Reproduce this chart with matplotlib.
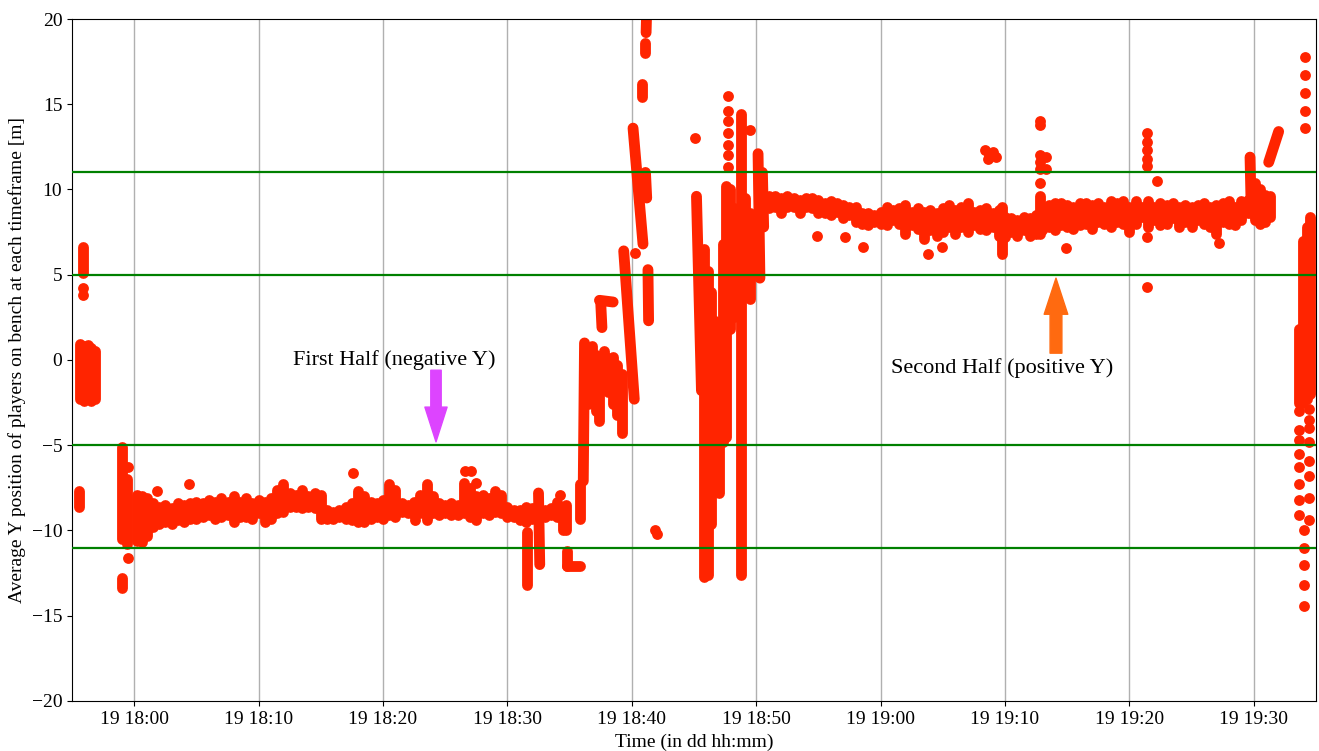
import matplotlib.pyplot as plt
import matplotlib.dates as mdates
from datetime import datetime, timedelta

plt.rcParams['font.family'] = ['Liberation Serif', 'DejaVu Serif']
plt.rcParams['font.size'] = 14

# minutes after 18:00 on the 19th
kickoff = datetime(2021, 6, 19, 18, 0)

# first half: dense band, one column every half minute (top / bottom of the dots)
first_t = [0.2, 0.6, 1.0, 1.5, 2.0, 2.5, 3.0, 3.5, 4.0, 4.5, 5.0, 5.5, 6.0, 6.5,
           7.0, 7.5, 8.0, 8.5, 9.0, 9.5, 10.0, 10.5, 11.0, 11.5, 12.0, 12.5, 13.0,
           13.5, 14.0, 14.5, 15.0, 15.5, 16.0, 16.5, 17.0, 17.5, 18.0, 18.5, 19.0,
           19.5, 20.0, 20.5, 21.0, 21.5, 22.0, 22.5, 23.0, 23.5, 24.0, 24.5, 25.0,
           25.5, 26.0, 26.5, 27.0, 27.5, 28.0, 28.5, 29.0, 29.5, 30.0, 30.5, 31.0,
           31.5, 32.0, 32.5, 33.0, 33.5, 34.0, 34.5]
first_hi = [-7.9, -8.0, -8.1, -8.4, -8.6, -8.5, -8.7, -8.4, -8.5, -8.4, -8.3, -8.4, -8.2, -8.3,
            -8.1, -8.3, -8.0, -8.3, -8.1, -8.4, -8.2, -8.3, -8.1, -7.6, -7.3, -7.8, -7.9,
            -7.6, -8.0, -7.8, -7.9, -8.8, -8.9, -8.8, -8.6, -8.4, -7.7, -8.0, -8.3,
            -8.4, -8.2, -7.3, -7.6, -8.4, -8.5, -8.3, -7.9, -7.3, -8.0, -8.4, -8.5,
            -8.4, -8.5, -7.2, -7.5, -8.0, -7.9, -8.1, -7.7, -7.9, -8.6, -8.8, -8.8,
            -8.6, -8.7, -8.5, -8.8, -8.7, -8.3, -8.6]
first_lo = [-10.6, -10.7, -10.3, -9.8, -9.6, -9.5, -9.6, -9.4, -9.5, -9.3, -9.3, -9.2, -9.1, -9.3,
            -9.2, -9.1, -9.5, -9.2, -9.2, -9.3, -9.0, -9.5, -9.3, -9.0, -8.9, -8.6, -8.6,
            -8.7, -8.6, -8.7, -9.3, -9.3, -9.3, -9.2, -9.3, -9.4, -9.5, -9.5, -9.3,
            -9.2, -9.3, -9.1, -9.2, -8.9, -9.0, -9.1, -9.0, -9.4, -9.0, -9.1, -9.0,
            -9.1, -9.1, -9.0, -9.2, -9.4, -9.0, -9.1, -8.9, -9.0, -9.2, -9.2, -9.4,
            -9.5, -9.3, -9.2, -9.2, -9.1, -9.2, -10.0]

# second half band
second_t = [50.5, 51.0, 51.5, 52.0, 52.5, 53.0, 53.5, 54.0, 54.5, 55.0, 55.5, 56.0, 56.5,
            57.0, 57.5, 58.0, 58.5, 59.0, 59.5, 60.0, 60.5, 61.0, 61.5, 62.0, 62.5, 63.0,
            63.5, 64.0, 64.5, 65.0, 65.5, 66.0, 66.5, 67.0, 67.5, 68.0, 68.5, 69.0, 69.5,
            70.0, 70.5, 71.0, 71.5, 72.0, 72.5, 73.0, 73.5, 74.0, 74.5, 75.0, 75.5, 76.0,
            76.5, 77.0, 77.5, 78.0, 78.5, 79.0, 79.5, 80.0, 80.5, 81.0, 81.5, 82.0, 82.5,
            83.0, 83.5, 84.0, 84.5, 85.0, 85.5, 86.0, 86.5, 87.0, 87.5, 88.0, 88.5, 89.0,
            89.5]
second_hi = [9.6, 9.6, 9.6, 9.5, 9.6, 9.5, 9.4, 9.5, 9.5, 9.4, 9.2, 9.3, 9.2,
             9.1, 9.0, 9.0, 8.6, 8.6, 8.5, 8.7, 9.0, 8.8, 8.9, 9.1, 8.7, 8.9,
             8.7, 8.8, 8.6, 8.9, 9.1, 8.8, 9.0, 9.2, 8.7, 8.8, 8.9, 8.6, 8.8,
             8.4, 8.3, 8.2, 8.4, 8.3, 8.5, 8.9, 9.1, 9.2, 9.2, 9.1, 9.0, 9.2,
             9.2, 9.1, 9.2, 9.0, 9.3, 9.2, 9.3, 9.0, 9.3, 9.0, 9.3, 9.0, 9.2,
             9.1, 9.2, 9.0, 9.1, 9.0, 9.1, 9.2, 9.0, 9.1, 9.2, 9.3, 9.0, 9.3,
             9.4]
second_lo = [8.4, 8.9, 9.0, 8.6, 9.0, 9.0, 8.6, 9.0, 8.9, 8.6, 8.6, 8.5, 8.7,
             8.3, 8.5, 8.1, 8.0, 7.9, 8.1, 8.0, 7.9, 8.2, 8.0, 7.4, 7.9, 7.7,
             7.1, 7.6, 7.3, 7.5, 7.8, 7.4, 7.8, 7.5, 7.9, 7.7, 7.6, 7.8, 7.3,
             7.2, 7.5, 7.3, 7.6, 7.3, 7.4, 7.6, 7.8, 7.6, 7.9, 7.8, 7.7, 7.9,
             8.0, 7.7, 8.1, 8.0, 7.8, 8.1, 8.0, 7.5, 8.0, 8.4, 7.8, 8.2, 7.9,
             8.0, 8.3, 7.8, 8.1, 7.8, 8.2, 8.0, 7.8, 7.4, 8.1, 8.0, 7.9, 8.2,
             8.6]

# runs of overlapping samples: (t start, y start, t end, y end)
warmup_runs = [(-4.15, 6.6, -4.15, 5.1), (-4.35, 0.95, -4.35, -2.3), (-4.05, 0.8, -4.05, -2.4),
               (-3.75, 0.9, -3.75, -2.2), (-3.45, 0.7, -3.45, -2.4), (-3.15, 0.5, -3.15, -2.3),
               (-4.45, -7.7, -4.45, -8.6), (-1.0, -5.1, -1.0, -10.5), (-0.6, -7.0, -0.6, -10.8),
               (-1.0, -12.8, -1.0, -13.4)]
first_runs = [(31.6, -10.1, 31.6, -13.2), (32.5, -7.8, 32.6, -12.0), (34.7, -8.5, 34.7, -10.0),
              (34.8, -11.2, 34.8, -12.1), (34.8, -12.1, 35.8, -12.1), (35.8, -7.3, 35.8, -9.3)]
break_runs = [(36.1, -7.1, 36.2, 1.0), (36.5, 0.6, 36.5, -2.6), (36.8, 0.8, 36.8, -1.6),
              (37.1, 0.3, 37.1, -3.0), (37.4, -0.4, 37.4, -3.6), (37.8, 0.5, 37.8, -1.5),
              (38.1, 0.1, 38.1, -1.9), (38.5, 0.2, 38.5, -2.6), (38.8, -0.3, 38.8, -3.2),
              (39.2, -0.8, 39.2, -4.3), (37.4, 3.5, 38.5, 3.4), (37.5, 3.4, 37.6, 1.9),
              (39.35, 6.4, 40.2, -2.3), (40.1, 13.6, 40.9, 6.8), (41.1, 11.0, 41.2, 9.5),
              (41.2, 20.6, 41.15, 19.2), (41.05, 18.6, 41.05, 18.0), (40.85, 16.2, 40.85, 15.4),
              (41.3, 5.3, 41.35, 2.3),
              (45.2, 9.6, 45.6, -1.8), (45.8, 6.5, 45.8, -12.7), (46.1, 5.2, 46.1, -12.6),
              (46.4, 4.0, 46.4, -9.6), (46.7, 2.3, 46.7, -7.2), (47.0, 1.0, 47.0, -7.8),
              (47.3, 6.8, 47.3, -4.8), (47.6, 10.2, 47.6, -4.5), (47.9, 10.0, 47.9, 1.8),
              (48.2, 8.9, 48.2, 2.5), (48.8, 14.4, 48.8, -12.6), (49.1, 9.5, 49.1, 5.2),
              (49.5, 8.6, 49.5, 3.6), (50.15, 12.1, 50.3, 4.8), (50.5, 11.0, 50.6, 7.8)]
second_runs = [(69.8, 9.0, 69.8, 6.2), (72.8, 9.6, 72.8, 7.4),
               (89.7, 11.9, 89.8, 8.6), (90.1, 10.4, 90.1, 8.2), (90.5, 10.0, 90.5, 8.0),
               (90.9, 9.7, 90.9, 8.1), (91.3, 9.6, 91.3, 8.4), (91.2, 11.6, 92.0, 13.4),
               (93.6, 1.8, 93.6, -2.5), (93.95, 7.0, 93.95, -2.5), (94.25, 7.8, 94.25, -2.3),
               (94.55, 8.4, 94.55, -2.0)]

# single samples
dot_t = [-4.15, -4.15, -0.5, -0.5,
         1.8, 4.4, 17.6, 22.6, 26.6, 27.1, 27.5, 34.2,
         40.25, 41.9, 42.0, 45.1, 47.7, 47.7, 47.7, 47.7, 47.7, 47.7, 47.7, 49.5,
         54.9, 57.1, 58.6, 63.8, 64.9, 68.4, 68.7, 69.0, 69.3, 68.6,
         72.8, 72.8, 72.8, 72.8, 72.8, 72.8, 73.3, 73.3, 74.9,
         81.4, 81.4, 81.4, 81.4, 81.4, 82.2, 81.4, 81.4, 87.2,
         94.1, 94.1, 94.1, 94.1, 94.1,
         93.65, 93.65, 93.65, 93.65, 93.65, 93.65, 93.65, 93.65,
         94.46, 94.46, 94.46, 94.46, 94.46, 94.46, 94.46, 94.46,
         94.06, 94.06, 94.06, 94.06, 94.06]
dot_y = [4.2, 3.8, -6.3, -11.6,
         -7.7, -7.3, -6.6, -9.4, -6.5, -6.5, -7.2, -7.9,
         6.3, -10.0, -10.2, 13.0, 15.5, 14.6, 14.0, 13.3, 12.6, 12.0, 11.3, 13.5,
         7.3, 7.2, 6.6, 6.2, 6.6, 12.3, 12.0, 12.2, 11.9, 11.8,
         14.0, 13.8, 12.0, 11.6, 11.2, 10.4, 11.9, 11.2, 6.55,
         13.3, 12.8, 12.3, 11.8, 11.4, 10.5, 7.2, 4.3, 6.85,
         17.8, 16.7, 15.65, 14.6, 13.6,
         -3.0, -4.1, -4.7, -5.5, -6.3, -7.3, -8.2, -9.1,
         -2.9, -3.5, -4.0, -4.8, -5.9, -6.8, -8.1, -9.4,
         -10.0, -11.0, -12.0, -13.2, -14.4]

bench_lines = [11, 5, -5, -11]


def at(m):
    return kickoff + timedelta(minutes=m)


red = '#ff2400'
lw = 7.8

fig, ax = plt.subplots(figsize=(13.19, 7.51), dpi=100)
fig.subplots_adjust(left=0.0546, right=0.9977, top=0.9747, bottom=0.0666)

ax.vlines([at(t) for t in first_t], first_lo, first_hi, colors=red, linewidth=lw,
          capstyle='round', zorder=2)
ax.vlines([at(t) for t in second_t], second_lo, second_hi, colors=red, linewidth=lw,
          capstyle='round', zorder=2)
for t0, y0, t1, y1 in warmup_runs + first_runs + break_runs + second_runs:
    ax.plot([at(t0), at(t1)], [y0, y1], color=red, lw=lw, solid_capstyle='round', zorder=2)
ax.scatter([at(t) for t in dot_t], dot_y, s=lw ** 2, color=red, linewidths=0, zorder=2)

for y in bench_lines:
    ax.axhline(y, color='green', lw=1.6, zorder=3)

ax.annotate('', xy=(at(24.26), -4.8), xytext=(at(24.26), -0.6),
            arrowprops=dict(facecolor='#dd44ff', edgecolor='#dd44ff', width=7.5,
                            headwidth=16, headlength=25, shrink=0), zorder=4)
ax.annotate('', xy=(at(74.1), 4.8), xytext=(at(74.1), 0.4),
            arrowprops=dict(facecolor='#ff6a10', edgecolor='#ff6a10', width=8.5,
                            headwidth=17, headlength=26, shrink=0), zorder=4)
ax.text(at(20.9), 0.0, 'First Half (negative Y)', ha='center', va='center', fontsize=16)
ax.text(at(69.8), -0.5, 'Second Half (positive Y)', ha='center', va='center', fontsize=16)

ax.set_xlim(at(-5), at(95))
ax.set_ylim(-20, 20)
ax.set_yticks(range(-20, 21, 5))
ax.xaxis.set_major_locator(mdates.MinuteLocator(byminute=range(0, 60, 10)))
ax.xaxis.set_major_formatter(mdates.DateFormatter('%d %H:%M'))
ax.grid(axis='x', color='#b0b0b0', lw=1.0)
ax.set_axisbelow(True)

ax.set_xlabel('Time (in dd hh:mm)')
ax.set_ylabel('Average Y position of players on bench at each timeframe [m]')

fig.savefig('out.png', dpi=100)
